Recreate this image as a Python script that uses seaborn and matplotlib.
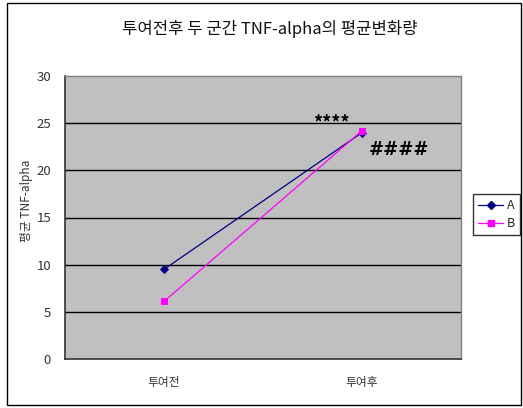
import matplotlib
matplotlib.use("Agg")
import matplotlib.pyplot as plt
import seaborn as sns
import pandas as pd
from matplotlib.patches import Rectangle
from matplotlib.lines import Line2D

# Data
timepoints = ["투여전", "투여후"]
group_a = [9.5, 24.0]
group_b = [6.1, 24.2]
y_ticks = [0, 5, 10, 15, 20, 25, 30]

df = pd.DataFrame({
    "time": timepoints * 2,
    "value": group_a + group_b,
    "group": ["A"] * len(timepoints) + ["B"] * len(timepoints),
})

sns.set_theme(style="white")
plt.rcParams["font.family"] = ["Noto Sans CJK KR", "DejaVu Sans"]

fig = plt.figure(figsize=(5.23, 4.08), dpi=100)
ax = fig.add_axes([65 / 523, 1 - 359 / 408, (461 - 65) / 523, (359 - 76) / 408])

palette = {"A": "#000080", "B": "#FF00FF"}
sns.pointplot(data=df, x="time", y="value", hue="group", palette=palette,
              markers=["D", "s"], errorbar=None, ax=ax, legend=False,
              linewidth=0.9, markersize=4.5)

ax.set_facecolor("#C0C0C0")
ax.set_xlim(-0.5, 1.5)
ax.set_ylim(0, 30)
ax.set_yticks(y_ticks)
ax.set_yticklabels([str(t) for t in y_ticks], color="#333333", fontsize=9.5)
ax.set_xticks([0, 1])
ax.set_xticklabels(timepoints, color="#333333", fontsize=8.5)
ax.set_xticks([0.5], minor=True)
ax.tick_params(axis="x", which="both", direction="in", length=3, color="black", pad=12)
ax.tick_params(axis="y", length=0, pad=10)
for y in y_ticks[1:-1]:
    ax.axhline(y, color="black", lw=1.0, zorder=0.5)
ax.set_axisbelow(True)
ax.set_xlabel("")
ax.set_ylabel("평균 TNF-alpha", fontsize=8.5, color="#333333")
ax.yaxis.set_label_coords(-0.08, 0.56)

for side in ["top", "right"]:
    ax.spines[side].set_color("#808080")
    ax.spines[side].set_linewidth(1.0)
for side in ["left", "bottom"]:
    ax.spines[side].set_color("#333333")
    ax.spines[side].set_linewidth(1.2)

# Significance marks
ax.annotate("****", xy=(1, group_a[1]), xytext=(-22, 0), textcoords="offset points",
            fontsize=13, fontweight="bold", color="black", ha="center", va="bottom")
ax.annotate("####", xy=(1, group_b[1]), xytext=(27, -14), textcoords="offset points",
            fontsize=13, fontstyle="italic", fontweight="bold", color="black",
            ha="center", va="center", family=["DejaVu Serif"])

fig.suptitle("투여전후 두 군간 TNF-alpha의 평균변화량", x=0.515, y=0.952,
             fontsize=12, fontweight="medium", color="#111111")

handles = [
    Line2D([], [], color=palette["A"], marker="D", markersize=4, lw=0.9),
    Line2D([], [], color=palette["B"], marker="s", markersize=4, lw=0.9),
]
fig.legend(handles, ["A", "B"], loc="upper left", bbox_to_anchor=(473 / 523, 1 - 194 / 408),
           frameon=True, fancybox=False, edgecolor="black", fontsize=9,
           handlelength=2.0, handletextpad=0.3, borderpad=0.4, labelspacing=0.4,
           borderaxespad=0)

fig.patches.append(Rectangle((7 / 523, 3 / 408), 514 / 523, 402 / 408,
                             transform=fig.transFigure, fill=False,
                             edgecolor="black", lw=1.0))

fig.savefig("out.png", dpi=100, facecolor="white")
